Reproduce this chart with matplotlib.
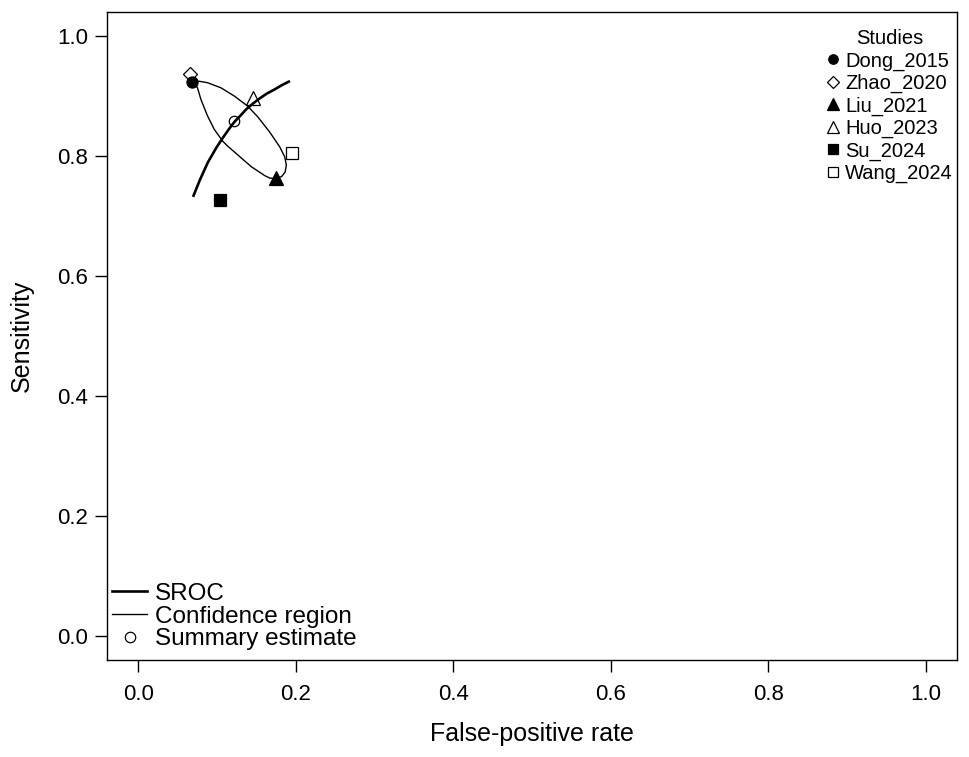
import matplotlib
matplotlib.use('Agg')
import matplotlib.pyplot as plt
from matplotlib.lines import Line2D
import numpy as np

plt.rcParams['font.family'] = ['Liberation Sans', 'DejaVu Sans']

#%% Study points
studies = ['Dong_2015', 'Zhao_2020', 'Liu_2021', 'Huo_2023', 'Su_2024', 'Wang_2024']
fpr = [0.068, 0.065, 0.175, 0.145, 0.103, 0.195]
sens = [0.924, 0.937, 0.763, 0.896, 0.727, 0.805]
markers = ['o', 'D', '^', '^', 's', 's']
filled = [True, False, True, False, True, False]

# Summary estimate
summary_fpr = 0.122
summary_sens = 0.858

# SROC curve
sroc_fpr = [0.070, 0.078, 0.088, 0.099, 0.107, 0.115, 0.122, 0.130, 0.137, 0.146,
            0.154, 0.163, 0.173, 0.182, 0.191]
sroc_sens = [0.734, 0.760, 0.789, 0.814, 0.830, 0.845, 0.857, 0.868, 0.878, 0.888,
             0.896, 0.904, 0.911, 0.918, 0.924]

# Confidence region outline
conf_fpr = [0.0693, 0.0776, 0.0878, 0.1047, 0.1218, 0.1387, 0.1518, 0.1667, 0.1794,
            0.1858, 0.1879, 0.1864, 0.1819, 0.1743, 0.1667, 0.1603, 0.1434, 0.1263,
            0.1132, 0.1069, 0.0963, 0.0878, 0.0793, 0.0751, 0.0712, 0.0693]
conf_sens = [0.9250, 0.9245, 0.9222, 0.9138, 0.9000, 0.8833, 0.8650, 0.8400, 0.8155,
             0.7988, 0.7850, 0.7733, 0.7658, 0.7625, 0.7633, 0.7675, 0.7822, 0.8017,
             0.8167, 0.8250, 0.8445, 0.8667, 0.8945, 0.9133, 0.9217, 0.9250]

#%% Plot
fig = plt.figure(figsize=(9.69, 7.57), dpi=100)
ax = fig.add_axes([0.1104, 0.1281, 0.8772, 0.856])

ax.plot(sroc_fpr, sroc_sens, color='black', lw=1.9, zorder=2, solid_joinstyle='round')
ax.plot(conf_fpr, conf_sens, color='black', lw=1.0, zorder=2, solid_joinstyle='round')
ax.plot(summary_fpr, summary_sens, marker='o', ms=7.5, mfc='none', mec='black', mew=0.9,
        ls='none', zorder=3)

study_handles = []
for name, x, y, m, f in zip(studies, fpr, sens, markers, filled):
    ms = {'^': 10, 'D': 7.5, 's': 8.5, 'o': 8}[m]
    ax.plot(x, y, marker=m, ms=ms, mfc='black' if f else 'none', mec='black', mew=0.9,
            ls='none', zorder=4)
    study_handles.append(Line2D([], [], marker=m, ms=ms * 0.85, mfc='black' if f else 'none',
                                mec='black', mew=0.9, ls='none', label=name))

ticks = np.arange(0, 1.01, 0.2)
ax.set_xlim(-0.04, 1.04)
ax.set_ylim(-0.04, 1.04)
ax.set_xticks(ticks)
ax.set_yticks(ticks)
ax.set_xticklabels(['{:.1f}'.format(v) for v in ticks])
ax.set_yticklabels(['{:.1f}'.format(v) for v in ticks])
ax.tick_params(direction='out', length=8.5, width=1.0, labelsize=16)
ax.tick_params(axis='x', pad=9)
ax.tick_params(axis='y', pad=5)
for s in ax.spines.values():
    s.set_linewidth(1.0)

ax.set_xlabel('False-positive rate', fontsize=18)
ax.set_ylabel('Sensitivity', fontsize=18)
ax.xaxis.set_label_coords(0.5, -0.096)
ax.yaxis.set_label_coords(-0.086, 0.5)

leg1 = ax.legend(handles=study_handles, title='Studies', loc='upper right',
                 bbox_to_anchor=(0.995, 0.9735), frameon=False, fontsize=14.5,
                 title_fontsize=14.5, handlelength=0.6, handletextpad=0.3,
                 labelspacing=0.16, borderaxespad=0.0, borderpad=0.0)
ax.add_artist(leg1)

bottom_handles = [
    Line2D([], [], color='black', lw=1.9, label='SROC'),
    Line2D([], [], color='black', lw=1.0, label='Confidence region'),
    Line2D([], [], marker='o', ms=7.5, mfc='none', mec='black', mew=0.9, ls='none',
           label='Summary estimate'),
]
ax.legend(handles=bottom_handles, loc='lower left', bbox_to_anchor=(0.006, 0.015),
          frameon=False, fontsize=17.5, handlelength=1.44, handletextpad=0.33,
          labelspacing=0.03, borderaxespad=0.0, borderpad=0.0)

plt.savefig('out.png', dpi=100)
plt.close()
